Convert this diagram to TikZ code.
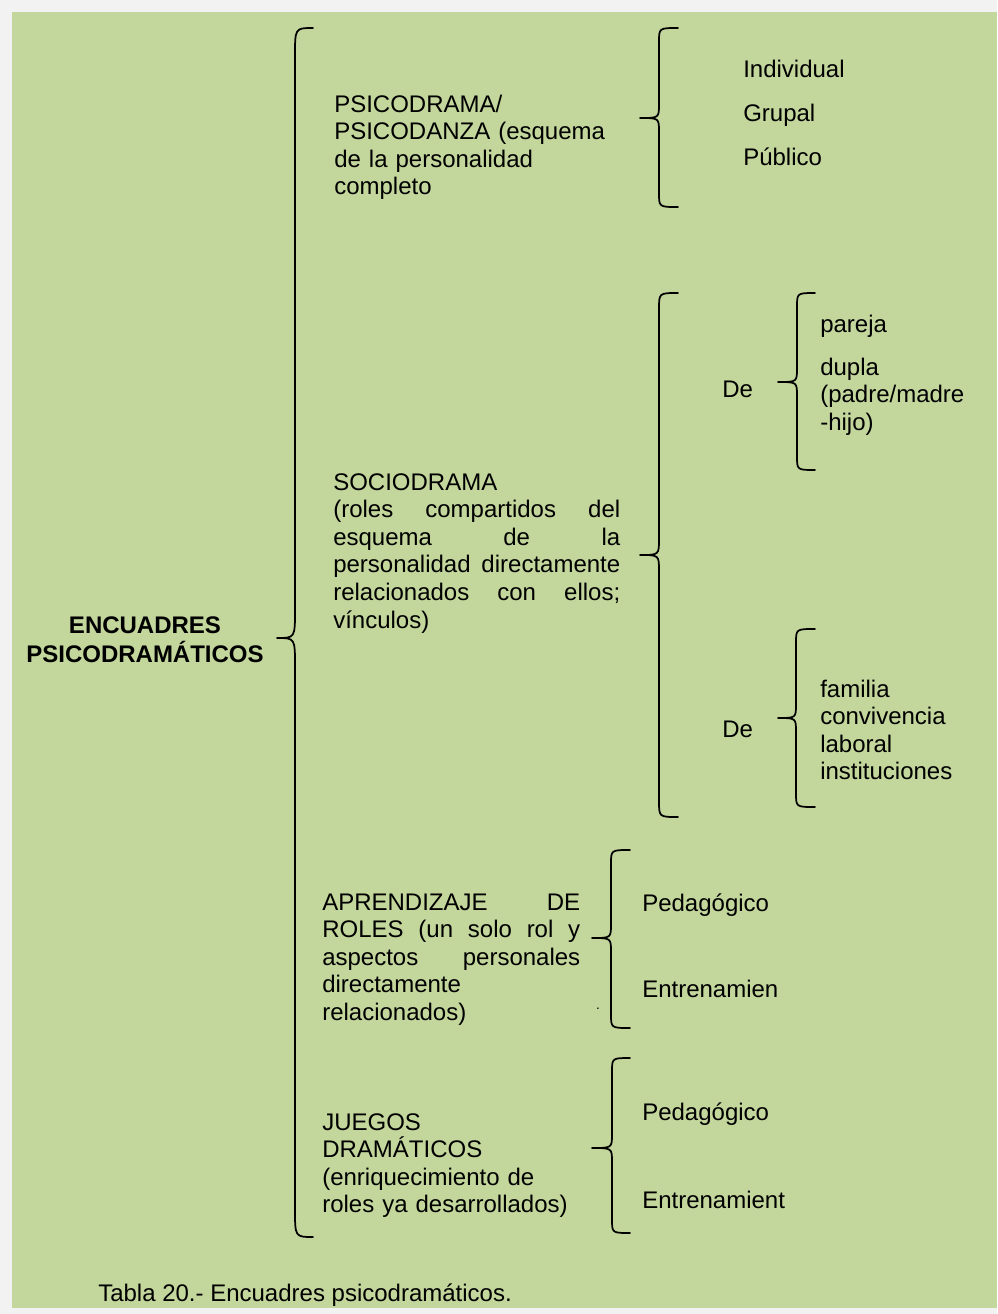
\documentclass[tikz,border=0pt]{standalone}
\usepackage{fontspec}
\setmainfont{Liberation Sans}
\definecolor{panelgreen}{RGB}{195,214,155}
\definecolor{pagegray}{RGB}{242,242,242}

% left curly brace: x of spine, top y, bottom y, tip y, tip x, end x, rounding
\newcommand{\drawbrace}[7]{%
  \draw[bracestyle] (#6,#2) .. controls (#1,#2) .. (#1,#2+#7)
    -- (#1,#4-#7) .. controls (#1,#4) .. (#5,#4)
    .. controls (#1,#4) .. (#1,#4+#7)
    -- (#1,#3-#7) .. controls (#1,#3) .. (#6,#3);}

\begin{document}
\begin{tikzpicture}[x=0.75pt,y=-0.75pt,
  txt/.style={anchor=base west, inner sep=0pt, font=\fontsize{18}{20.7}\selectfont},
  block/.style={txt, align=left, text width=#1},
  bracestyle/.style={line width=1.3pt, line join=round, line cap=round}]

\useasboundingbox (0,0) rectangle (997,1314);
\fill[pagegray] (0,0) rectangle (997,1314);
\fill[panelgreen] (12,12) rectangle (997,1308);

% title
\node[anchor=base, inner sep=0pt, align=center, text width=240pt,
      font=\fontsize{18}{21.75}\selectfont\bfseries] (title) at (145,633)
  {ENCUADRES\\PSICODRAMÁTICOS};

% braces
\drawbrace{295}{28}{1237}{638}{277}{313}{28}
\drawbrace{659}{28}{207}{118}{640}{678}{14}
\drawbrace{659}{293}{817}{555}{640}{678}{16}
\drawbrace{797}{293}{470}{382}{778}{815}{14}
\drawbrace{796}{629}{807}{718}{778}{815}{14}
\drawbrace{611}{850}{1028}{938}{592}{630}{14}
\drawbrace{612}{1058}{1233}{1148}{592}{630}{14}

% first branch
\node[block=230pt] (psico) at (334,112)
  {PSICODRAMA/\\PSICODANZA (esquema\\de la personalidad\\completo};
\node[txt] (indiv) at (743,77) {Individual};
\node[txt] (grupal) at (743,121) {Grupal};
\node[txt] (publico) at (743,165) {Público};

% second branch
\node[block=215.25pt] (socio) at (333,490)
  {SOCIODRAMA\\
   (roles\hfill compartidos\hfill del\\
   esquema\hfill de\hfill la\\
   personalidad\hfill directamente\\
   relacionados\hfill con\hfill ellos;\\
   vínculos)};
\node[txt] (de1) at (722,397) {De};
\node[txt] (pareja) at (820,332) {pareja};
\node[block=130pt] (dupla) at (820,375) {dupla\\(padre/madre\\-hijo)};
\node[txt] (de2) at (722,737) {De};
\node[block=130pt] (grupos) at (820,697)
  {familia\\convivencia\\laboral\\instituciones};

% third branch
\node[block=193.5pt] (aprend) at (322,910)
  {APRENDIZAJE\hfill DE\\
   ROLES\hfill (un\hfill solo\hfill rol\hfill y\\
   aspectos\hfill personales\\
   directamente\\
   relacionados)};
\node[anchor=base, inner sep=0pt, font=\fontsize{10}{12}\selectfont] (dot) at (598,1009) {.};
\node[txt] (pedag1) at (642,911) {Pedagógico};
\node[txt] (entren1) at (642,997) {Entrenamien};

% fourth branch
\node[block=230pt] (juegos) at (322,1130)
  {JUEGOS\\DRAMÁTICOS\\(enriquecimiento de\\roles ya desarrollados)};
\node[txt] (pedag2) at (642,1120) {Pedagógico};
\node[txt] (entren2) at (642,1208) {Entrenamient};

% caption
\node[txt] (caption) at (98,1301) {Tabla 20.- Encuadres psicodramáticos.};
\end{tikzpicture}
\end{document}
